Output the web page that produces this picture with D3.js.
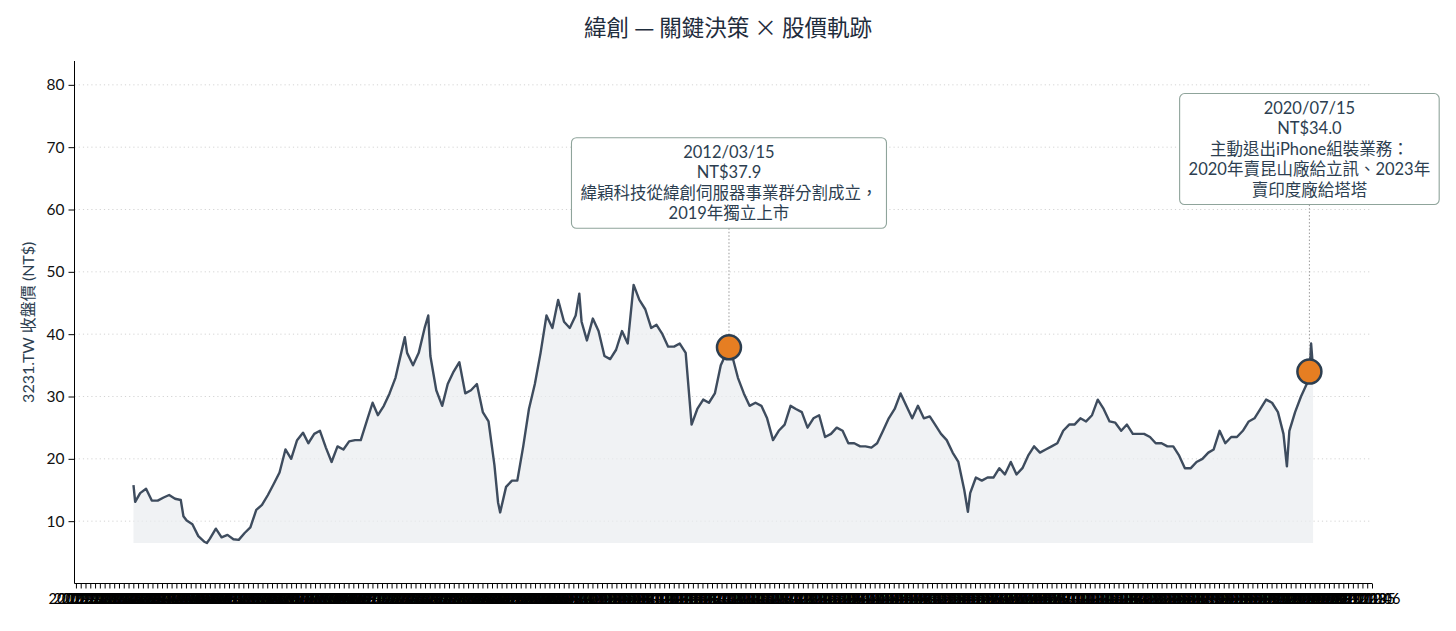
<!DOCTYPE html>
<html><head><meta charset="utf-8">
<script src="https://cdn.jsdelivr.net/npm/d3@7"></script>
<style>
html,body{margin:0;padding:0;background:#fff;}
svg{display:block;}
text{font-family:Lato,"Noto Sans CJK TC",sans-serif;}
</style></head>
<body>
<svg id="chart" width="1456" height="631"></svg>
<script>
// ---- data ----
const dates = ["2003-08-27","2003-09-05","2003-10-01","2003-11-01","2003-12-01",
"2004-01-01","2004-02-01","2004-03-01","2004-04-01","2004-05-01","2004-05-15","2004-06-01","2004-07-01","2004-08-01","2004-09-01","2004-09-15","2004-10-01","2004-11-01","2004-12-01",
"2005-01-01","2005-02-01","2005-03-01","2005-04-01","2005-05-01","2005-06-01","2005-07-01","2005-08-01","2005-09-01","2005-10-01","2005-11-01","2005-12-01",
"2006-01-01","2006-02-01","2006-03-01","2006-04-01","2006-05-01","2006-06-01","2006-07-01","2006-08-01","2006-09-01","2006-10-01","2006-11-01","2006-12-01",
"2007-01-01","2007-02-01","2007-03-01","2007-04-01","2007-05-01","2007-06-01","2007-07-01","2007-07-20","2007-08-01","2007-09-01","2007-10-01","2007-11-01","2007-11-20","2007-12-01",
"2008-01-01","2008-02-01","2008-03-01","2008-04-01","2008-05-01","2008-06-01","2008-07-01","2008-08-01","2008-09-01","2008-10-01","2008-11-01","2008-11-20","2008-12-01",
"2009-01-01","2009-02-01","2009-03-01","2009-04-01","2009-05-01","2009-06-01","2009-07-01","2009-08-01","2009-09-01","2009-10-01","2009-11-01","2009-12-01",
"2010-01-01","2010-01-20","2010-02-01","2010-03-01","2010-04-01","2010-05-01","2010-06-01","2010-07-01","2010-08-01","2010-09-01","2010-10-01","2010-11-01","2010-12-01",
"2011-01-01","2011-02-01","2011-03-01","2011-04-01","2011-05-01","2011-06-01","2011-07-01","2011-08-01","2011-09-01","2011-10-01","2011-11-01","2011-12-01",
"2012-01-01","2012-02-01","2012-03-15","2012-04-01","2012-05-01","2012-06-01","2012-07-01","2012-08-01","2012-09-01","2012-10-01","2012-11-01","2012-12-01",
"2013-01-01","2013-02-01","2013-03-01","2013-04-01","2013-05-01","2013-06-01","2013-07-01","2013-08-01","2013-09-01","2013-10-01","2013-11-01","2013-12-01",
"2014-01-01","2014-02-01","2014-03-01","2014-04-01","2014-05-01","2014-06-01","2014-07-01","2014-08-01","2014-09-01","2014-10-01","2014-11-01","2014-12-01",
"2015-01-01","2015-02-01","2015-03-01","2015-04-01","2015-05-01","2015-06-01","2015-07-01","2015-08-01","2015-08-20","2015-09-01","2015-10-01","2015-11-01","2015-12-01",
"2016-01-01","2016-02-01","2016-03-01","2016-04-01","2016-05-01","2016-06-01","2016-07-01","2016-08-01","2016-09-01","2016-10-01","2016-11-01","2016-12-01",
"2017-01-01","2017-02-01","2017-03-01","2017-04-01","2017-05-01","2017-06-01","2017-07-01","2017-08-01","2017-09-01","2017-10-01","2017-11-01","2017-12-01",
"2018-01-01","2018-02-01","2018-03-01","2018-04-01","2018-05-01","2018-06-01","2018-07-01","2018-08-01","2018-09-01","2018-10-01","2018-11-01","2018-12-01",
"2019-01-01","2019-02-01","2019-03-01","2019-04-01","2019-05-01","2019-06-01","2019-07-01","2019-08-01","2019-09-01","2019-10-01","2019-11-01","2019-12-01",
"2020-01-01","2020-02-01","2020-03-01","2020-03-19","2020-04-01","2020-05-01","2020-06-01","2020-07-01","2020-07-15","2020-07-24","2020-08-03"];
const prices = [15.8,13.1,14.5,15.2,13.3,
13.3,13.8,14.2,13.6,13.4,10.8,10.1,9.5,7.6,6.7,6.5,7.2,8.8,7.4,
7.8,7.1,7.0,8.1,9.0,11.8,12.6,14.2,16.0,17.8,21.5,20.0,
23.0,24.2,22.5,24.0,24.5,21.8,19.5,22.0,21.5,22.8,23.0,23.0,
26.0,29.0,27.0,28.5,30.5,33.0,37.0,39.5,37.0,35.0,37.0,41.0,43.0,36.5,
31.0,28.5,32.0,34.0,35.5,30.5,31.0,32.0,27.5,26.0,19.0,13.0,11.4,
15.5,16.5,16.5,22.0,28.0,32.0,37.0,43.0,41.0,45.5,42.0,41.0,
43.0,46.5,42.0,39.0,42.5,40.5,36.5,36.0,37.5,40.5,38.5,47.9,45.5,
44.0,41.0,41.5,40.0,38.0,38.0,38.5,37.0,25.5,28.0,29.5,29.0,
30.5,35.0,37.9,36.5,33.0,30.5,28.5,29.0,28.5,26.5,23.0,24.5,
25.5,28.5,28.0,27.5,25.0,26.5,27.0,23.5,24.0,25.0,24.5,22.5,
22.5,22.0,22.0,21.8,22.5,24.5,26.5,28.0,30.5,28.5,26.5,28.5,
26.5,26.8,25.5,24.0,23.0,21.0,19.5,15.0,11.5,14.5,17.0,16.5,17.0,
17.0,18.5,17.5,19.5,17.5,18.5,20.5,22.0,21.0,21.5,22.0,22.5,
24.5,25.5,25.5,26.5,26.0,27.0,29.5,28.0,26.0,25.8,24.5,25.5,
24.0,24.0,24.0,23.5,22.5,22.5,22.0,22.0,20.5,18.5,18.5,19.5,
20.0,21.0,21.5,24.5,22.5,23.5,23.5,24.5,26.0,26.5,28.0,29.5,
29.0,27.5,24.0,18.8,24.5,27.5,30.0,32.0,34.0,38.5,34.5];

const eventDates = ["2012-03-15","2020-07-15"];
const eventPrices = [37.9, 34.0];
const eventTexts = [
  ["2012/03/15","NT$37.9","緯穎科技從緯創伺服器事業群分割成立，","2019年獨立上市"],
  ["2020/07/15","NT$34.0","主動退出iPhone組裝業務：","2020年賣昆山廠給立訊、2023年","賣印度廠給塔塔"]
];
const yTicks = [10,20,30,40,50,60,70,80];
const titleText = "緯創 — 關鍵決策 × 股價軌跡";
const yLabelText = "3231.TW 收盤價 (NT$)";

// ---- layout ----
const W = 1456, H = 631;
const L = 74.5, R = 1372, T = 61, B = 583.5;
const parse = d3.timeParse("%Y-%m-%d");
const data = dates.map((d,i)=>({date:parse(d), v:prices[i]}));
const svg = d3.select("#chart");

const t0 = data[0].date, t1 = data[data.length-1].date;
const span = t1 - t0;
const x = d3.scaleTime().domain([new Date(+t0 - 0.05*span), new Date(+t1 + 0.05*span)]).range([L, R]);
const vmax = d3.max(prices), vmin = d3.min(prices);
const y = d3.scaleLinear().domain([0, vmax*1.75]).range([B, T]);

// title
svg.append("text").attr("x", W/2).attr("y", 36).attr("text-anchor","middle")
  .attr("font-size", 22.5).attr("fill","#1f2d3d")
  .style("font-family","'Noto Sans CJK TC',sans-serif").text(titleText);

// grid
svg.append("g").selectAll("line").data(yTicks).join("line")
  .attr("x1", L).attr("x2", R).attr("y1", d=>y(d)).attr("y2", d=>y(d))
  .attr("stroke","#d4d4d4").attr("stroke-width",1).attr("stroke-dasharray","1.2,3");

// area + line
svg.append("path").datum(data)
  .attr("d", d3.area().x(d=>x(d.date)).y0(y(vmin)).y1(d=>y(d.v)))
  .attr("fill","#e9ecef").attr("opacity",0.7);
svg.append("path").datum(data)
  .attr("d", d3.line().x(d=>x(d.date)).y(d=>y(d.v)))
  .attr("fill","none").attr("stroke","#3e4c5e").attr("stroke-width",2.4).attr("stroke-linejoin","round");

// axes
const yAxis = d3.axisLeft(y).tickValues(yTicks).tickSize(6).tickPadding(4);
const gy = svg.append("g").attr("transform",`translate(${L},0)`).call(yAxis);
gy.select(".domain").attr("d", `M0,${B}V${T}`).attr("stroke","#000");
gy.selectAll(".tick text").attr("font-size",15.5).attr("fill","#111").style("font-family","Lato,sans-serif");

const nTicks = 272;
const dom = x.domain();
const tickVals = d3.range(nTicks).map(i => new Date(+dom[0] + (i+0.3)*(dom[1]-dom[0])/(nTicks-0.7)));
const xAxis = d3.axisBottom(x).tickValues(tickVals).tickFormat(d3.timeFormat("%Y-%m")).tickSize(5).tickPadding(5);
const gx = svg.append("g").attr("transform",`translate(0,${B})`).call(xAxis);
gx.select(".domain").attr("d", `M${L},0H${R}`).attr("stroke","#000");
gx.selectAll(".tick text").attr("font-size",14.5).attr("fill","#000").style("font-family","Lato,sans-serif");

// y label
svg.append("text").attr("transform",`translate(34,${(T+B)/2}) rotate(-90)`)
  .attr("text-anchor","middle").attr("font-size",16).attr("fill","#2c3e50").text(yLabelText);

// annotations
const boxBottomOffset = [119, 167];
eventDates.forEach((ds,i)=>{
  const ex = x(parse(ds)), ey = y(eventPrices[i]);
  const lines = eventTexts[i];
  const lh = 20.5;
  const g = svg.append("g");
  const txt = g.append("text").attr("text-anchor","middle").attr("font-size",16.5).attr("fill","#2c3e50");
  lines.forEach((s,j)=>{
    txt.append("tspan").attr("x", ex).attr("y", j*lh).text(s);
  });
  const bb = txt.node().getBBox();
  const padX = 9, padTop = 4, padBot = 5;
  g.insert("rect","text").attr("x", bb.x - padX).attr("y", bb.y - padTop)
    .attr("width", bb.width + 2*padX).attr("height", bb.height + padTop + padBot)
    .attr("rx",5).attr("fill","#fff").attr("stroke","#8fa49b").attr("stroke-width",1.1);
  const targetBottom = ey - boxBottomOffset[i];
  const localBottom = bb.y + bb.height + padBot;
  g.attr("transform", `translate(0,${targetBottom - localBottom})`);
  svg.append("line").attr("x1",ex).attr("x2",ex).attr("y1",targetBottom).attr("y2",ey-12)
    .attr("stroke","#9a9a9a").attr("stroke-width",1).attr("stroke-dasharray","1.5,2");
  svg.append("circle").attr("cx",ex).attr("cy",ey).attr("r",12)
    .attr("fill","#e67e22").attr("stroke","#2c3e50").attr("stroke-width",2.5);
});
</script>
</body></html>
